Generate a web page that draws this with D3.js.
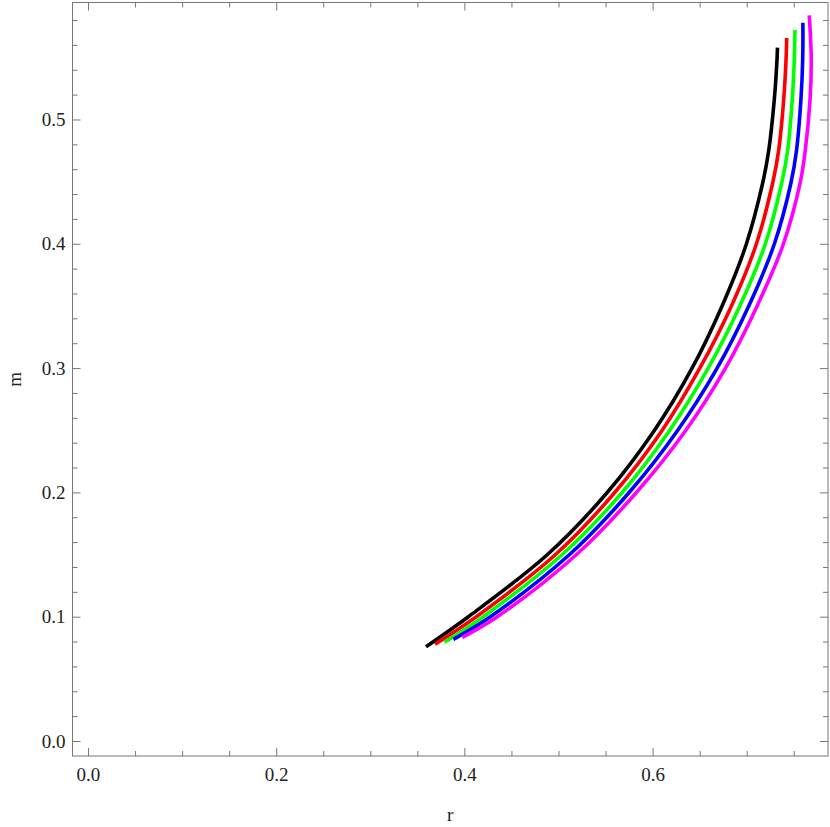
<!DOCTYPE html>
<html>
<head>
<meta charset="utf-8">
<script src="https://cdn.jsdelivr.net/npm/d3@7"></script>
<style>
 body { margin:0; background:#fff; }
 text { font-family:"Liberation Serif","DejaVu Serif",serif; fill:#222; }
</style>
</head>
<body>
<script>

 // each curve: radius r and mass m
 var rBlack   = [0.3592,0.4039,0.4877,0.5513,0.6015,0.6415,0.6734,0.6993,0.7170,0.7235,0.7293,0.7322,0.7327];
 var mBlack   = [0.0759,0.0998,0.1496,0.1995,0.2494,0.2993,0.3492,0.3990,0.4489,0.4755,0.5157,0.5479,0.5578];
 var rRed     = [0.3688,0.4123,0.4963,0.5593,0.6097,0.6497,0.6833,0.7099,0.7276,0.7340,0.7393,0.7418,0.7425];
 var mRed     = [0.0778,0.0998,0.1496,0.1995,0.2494,0.2993,0.3492,0.3990,0.4489,0.4755,0.5157,0.5479,0.5656];
 var rGreen   = [0.3788,0.4198,0.5034,0.5672,0.6177,0.6586,0.6922,0.7194,0.7372,0.7436,0.7484,0.7506,0.7513];
 var mGreen   = [0.0794,0.0998,0.1496,0.1995,0.2494,0.2993,0.3492,0.3990,0.4489,0.4755,0.5157,0.5479,0.5720];
 var rBlue    = [0.3883,0.4272,0.5112,0.5746,0.6262,0.6681,0.7017,0.7290,0.7470,0.7530,0.7576,0.7595,0.7597];
 var mBlue    = [0.0818,0.0998,0.1496,0.1995,0.2494,0.2993,0.3492,0.3990,0.4489,0.4755,0.5157,0.5479,0.5779];
 var rMagenta = [0.3978,0.4346,0.5186,0.5823,0.6348,0.6770,0.7106,0.7386,0.7568,0.7623,0.7673,0.7686,0.7665];
 var mMagenta = [0.0834,0.0998,0.1496,0.1995,0.2494,0.2993,0.3492,0.3990,0.4489,0.4755,0.5157,0.5479,0.5838];

 var xMajor = [0, 0.2, 0.4, 0.6];
 var xMinor = [0.05, 0.1, 0.15, 0.25, 0.3, 0.35, 0.45, 0.5, 0.55, 0.65, 0.7, 0.75];
 var yMajor = [0, 0.1, 0.2, 0.3, 0.4, 0.5];
 var yMinor = [0.02,0.04,0.06,0.08,0.12,0.14,0.16,0.18,0.22,0.24,0.26,0.28,
               0.32,0.34,0.36,0.38,0.42,0.44,0.46,0.48,0.52,0.54,0.56,0.58];

 var series = [
   {r: rBlack,   m: mBlack,   color: "#000000"},
   {r: rRed,     m: mRed,     color: "#ff0000"},
   {r: rGreen,   m: mGreen,   color: "#00ff00"},
   {r: rBlue,    m: mBlue,    color: "#0000ff"},
   {r: rMagenta, m: mMagenta, color: "#ff00ff"}
 ];

 // plot frame (note: "top" is taken by window.top)
 var fLeft = 72.5, fRight = 828, fTop = 2.5, fBottom = 756;
 var frameColor = "#777";
 var serif = "'Liberation Serif','DejaVu Serif',serif";

 var svg = d3.select("body").append("svg")
             .attr("width", 830)
             .attr("height", 827);

 var x = d3.scaleLinear().domain([-0.01647, 0.7864]).range([fLeft, fRight]);
 var y = d3.scaleLinear().domain([-0.01207, 0.5941]).range([fBottom, fTop]);

 svg.append("rect")
    .attr("x", fLeft).attr("y", fTop)
    .attr("width", fRight - fLeft).attr("height", fBottom - fTop)
    .attr("fill", "none")
    .attr("stroke", frameColor)
    .attr("stroke-width", 1);

 function styleAxis(g) {
   g.select(".domain").remove();
   g.selectAll("line").attr("stroke", frameColor);
   g.selectAll("text")
    .style("font-family", serif)
    .style("font-size", "19px")
    .attr("fill", "#222");
 }

 // ticks point inward on all four sides
 svg.append("g").attr("transform", "translate(0," + fBottom + ")")
    .call(d3.axisBottom(x).tickValues(xMajor).tickSize(-8).tickPadding(12)
           .tickFormat(d3.format(".1f")))
    .call(styleAxis);
 svg.append("g").attr("transform", "translate(0," + fBottom + ")")
    .call(d3.axisBottom(x).tickValues(xMinor).tickSize(-5).tickFormat(""))
    .call(styleAxis);
 svg.append("g").attr("transform", "translate(0," + fTop + ")")
    .call(d3.axisTop(x).tickValues(xMajor).tickSize(-8).tickFormat(""))
    .call(styleAxis);
 svg.append("g").attr("transform", "translate(0," + fTop + ")")
    .call(d3.axisTop(x).tickValues(xMinor).tickSize(-5).tickFormat(""))
    .call(styleAxis);

 svg.append("g").attr("transform", "translate(" + fLeft + ",0)")
    .call(d3.axisLeft(y).tickValues(yMajor).tickSize(-8).tickPadding(7)
           .tickFormat(d3.format(".1f")))
    .call(styleAxis);
 svg.append("g").attr("transform", "translate(" + fLeft + ",0)")
    .call(d3.axisLeft(y).tickValues(yMinor).tickSize(-5).tickFormat(""))
    .call(styleAxis);
 svg.append("g").attr("transform", "translate(" + fRight + ",0)")
    .call(d3.axisRight(y).tickValues(yMajor).tickSize(-8).tickFormat(""))
    .call(styleAxis);
 svg.append("g").attr("transform", "translate(" + fRight + ",0)")
    .call(d3.axisRight(y).tickValues(yMinor).tickSize(-5).tickFormat(""))
    .call(styleAxis);

 // curves
 var line = d3.line()
              .x(function(d) { return x(d[0]); })
              .y(function(d) { return y(d[1]); })
              .curve(d3.curveCatmullRom.alpha(0.5));

 svg.selectAll("path.curve").data(series).enter()
    .append("path")
    .attr("class", "curve")
    .attr("d", function(s) { return line(s.r.map(function(v, i) { return [v, s.m[i]]; })); })
    .attr("fill", "none")
    .attr("stroke", function(s) { return s.color; })
    .attr("stroke-width", 3.6);

 // axis labels
 svg.append("text")
    .attr("x", (fLeft + fRight) / 2).attr("y", 821)
    .attr("text-anchor", "middle")
    .style("font-family", serif)
    .style("font-size", "19px")
    .text("r");

 svg.append("text")
    .attr("transform", "translate(21," + ((fTop + fBottom) / 2) + ") rotate(-90)")
    .attr("text-anchor", "middle")
    .style("font-family", serif)
    .style("font-size", "19px")
    .text("m");

</script>
</body>
</html>
